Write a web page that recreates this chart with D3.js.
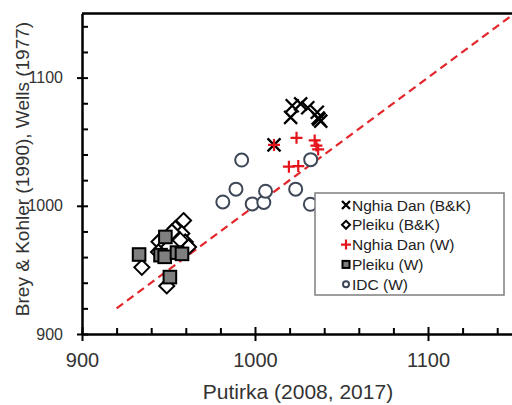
<!DOCTYPE html>
<html><head><meta charset="utf-8">
<script src="https://cdn.jsdelivr.net/npm/d3@7"></script>
<style>body{margin:0;background:#fff}svg{display:block}text{font-family:"Liberation Sans",Arial,sans-serif}</style>
</head><body><svg id="c" width="512" height="405"></svg>
<script>
const xTicks=[900,1000,1100];
const yTicks=[900,1000,1100];
const minorTicks=[920,940,960,980,1020,1040,1060,1080,1120,1140];
const seriesNames=["Nghia Dan (B&K)","Pleiku (B&K)","Nghia Dan (W)","Pleiku (W)","IDC (W)"];
const ndBK=[[1021.5,1078],[1020.6,1069],[1026.4,1079.5],[1030.5,1076.5],[1036,1073],[1037,1067.5],[1038,1066],[1036.5,1068.5],[1011,1047.5]];
const plBK=[[958.7,988.5],[954,982.3],[957.7,978.4],[952,979.6],[959.7,971.8],[956.8,973.2],[961.6,967.9],[944.5,972],[944.2,964],[934.6,952],[949,937.5]];
const ndW=[[1011,1047.5],[1024,1053],[1034.5,1051],[1035.5,1047],[1036.5,1044],[1019.6,1030.5],[1025,1031]];
const plW=[[933,962],[948.2,975.7],[945.4,961.5],[947.8,960.2],[954.9,963.5],[957.8,962.5],[950.8,944.4]];
const idc=[[992.3,1035.7],[981.4,1003],[989,1013],[998.4,1001.5],[1005.1,1002.6],[1006.1,1011.4],[1023.5,1013],[1032,1001.2],[1032.2,1036]];
const oneToOne=[[920,920],[1150,1150]];

const svg=d3.select("#c");
const x=d3.scaleLinear().domain([900,1150]).range([82,514.5]);
const y=d3.scaleLinear().domain([900,1150]).range([334,13.5]);

svg.append("path").attr("d",`M${x(900)},${y(1150)}H${x(1150)}V${y(900)}`).attr("fill","none").attr("stroke","#000").attr("stroke-width",2.5);

const gxm=svg.append("g").attr("transform",`translate(0,${y(900)})`).call(d3.axisBottom(x).tickValues(minorTicks).tickSize(-6).tickSizeOuter(0).tickFormat(""));
gxm.select(".domain").remove();
gxm.selectAll("line").attr("stroke-width",2);
const gym=svg.append("g").attr("transform",`translate(${x(900)},0)`).call(d3.axisLeft(y).tickValues(minorTicks).tickSize(-6).tickSizeOuter(0).tickFormat(""));
gym.select(".domain").remove();
gym.selectAll("line").attr("stroke-width",2);

const gx=svg.append("g").attr("transform",`translate(0,${y(900)})`).call(d3.axisBottom(x).tickValues(xTicks).tickSize(7).tickSizeOuter(0).tickFormat(d3.format("d")));
gx.select(".domain").attr("stroke-width",2.5);
gx.selectAll("line").attr("y1",-7).attr("stroke-width",2);
gx.selectAll("text").attr("y",19).attr("font-size",20).attr("fill","#333").attr("font-family","Liberation Sans, Arial, sans-serif");
const gy=svg.append("g").attr("transform",`translate(${x(900)},0)`).call(d3.axisLeft(y).tickValues(yTicks).tickSize(5).tickSizeOuter(0).tickFormat(d3.format("d")));
gy.select(".domain").attr("stroke-width",2.5);
gy.selectAll("line").attr("x2",-5).attr("x1",6).attr("stroke-width",2);
gy.selectAll("text").attr("x",-19).attr("font-size",16).attr("fill","#333").attr("font-family","Liberation Sans, Arial, sans-serif");

svg.append("text").attr("x",298).attr("y",399).attr("text-anchor","middle").attr("font-size",21).attr("fill","#333").text("Putirka (2008, 2017)");
svg.append("text").attr("transform","translate(29,169) rotate(-90)").attr("text-anchor","middle").attr("font-size",19).attr("fill","#333").text("Brey & Kohler (1990), Wells (1977)");

svg.append("line").attr("x1",x(oneToOne[0][0])).attr("y1",y(oneToOne[0][1])).attr("x2",x(oneToOne[1][0])).attr("y2",y(oneToOne[1][1]))
  .attr("stroke","#e3262b").attr("stroke-width",2.2).attr("stroke-dasharray","8,5");

const red="#e4141c", circ="#3e4757";
function xMark(g,s,w){g.append("path").attr("d",`M${-s},${-s}L${s},${s}M${-s},${s}L${s},${-s}`).attr("stroke","#000").attr("stroke-width",w||2.3).attr("fill","none");}
function diamond(g,s){g.append("path").attr("d",`M0,${-s}L${s},0L0,${s}L${-s},0Z`).attr("stroke","#000").attr("stroke-width",2).attr("fill","#fff");}
function plus(g,s){g.append("path").attr("d",`M${-s},0H${s}M0,${-s}V${s}`).attr("stroke",red).attr("stroke-width",2.2).attr("fill","none");}
function square(g,s){g.append("rect").attr("x",-s).attr("y",-s).attr("width",2*s).attr("height",2*s).attr("stroke","#000").attr("stroke-width",2).attr("fill","#7f7f7f");}
function circle(g,s){g.append("circle").attr("r",s).attr("stroke",circ).attr("stroke-width",2).attr("fill","#fff");}

function draw(data,fn,s){
  data.forEach(d=>{const g=svg.append("g").attr("transform",`translate(${x(d[0])},${y(d[1])})`);fn(g,s);});
}
draw(ndBK,xMark,6.5);
draw(plBK,diamond,7.5);
draw(ndW,plus,6);
draw(plW,square,6.3);
draw(idc,circle,6.5);

svg.append("rect").attr("x",315).attr("y",193).attr("width",189).attr("height",102).attr("fill","#fff").attr("stroke","#7f7f7f").attr("stroke-width",1.5);
const legFns=[[xMark,4],[diamond,4],[plus,5],[square,3.5],[circle,3]];
seriesNames.forEach((n,i)=>{
  const cy=205+19.8*i;
  const g=svg.append("g").attr("transform",`translate(346,${cy})`);
  legFns[i][0](g,legFns[i][1]);
  svg.append("text").attr("x",352).attr("y",cy+5.5).attr("font-size",15.5).attr("fill","#222").text(n);
});
</script></body></html>
